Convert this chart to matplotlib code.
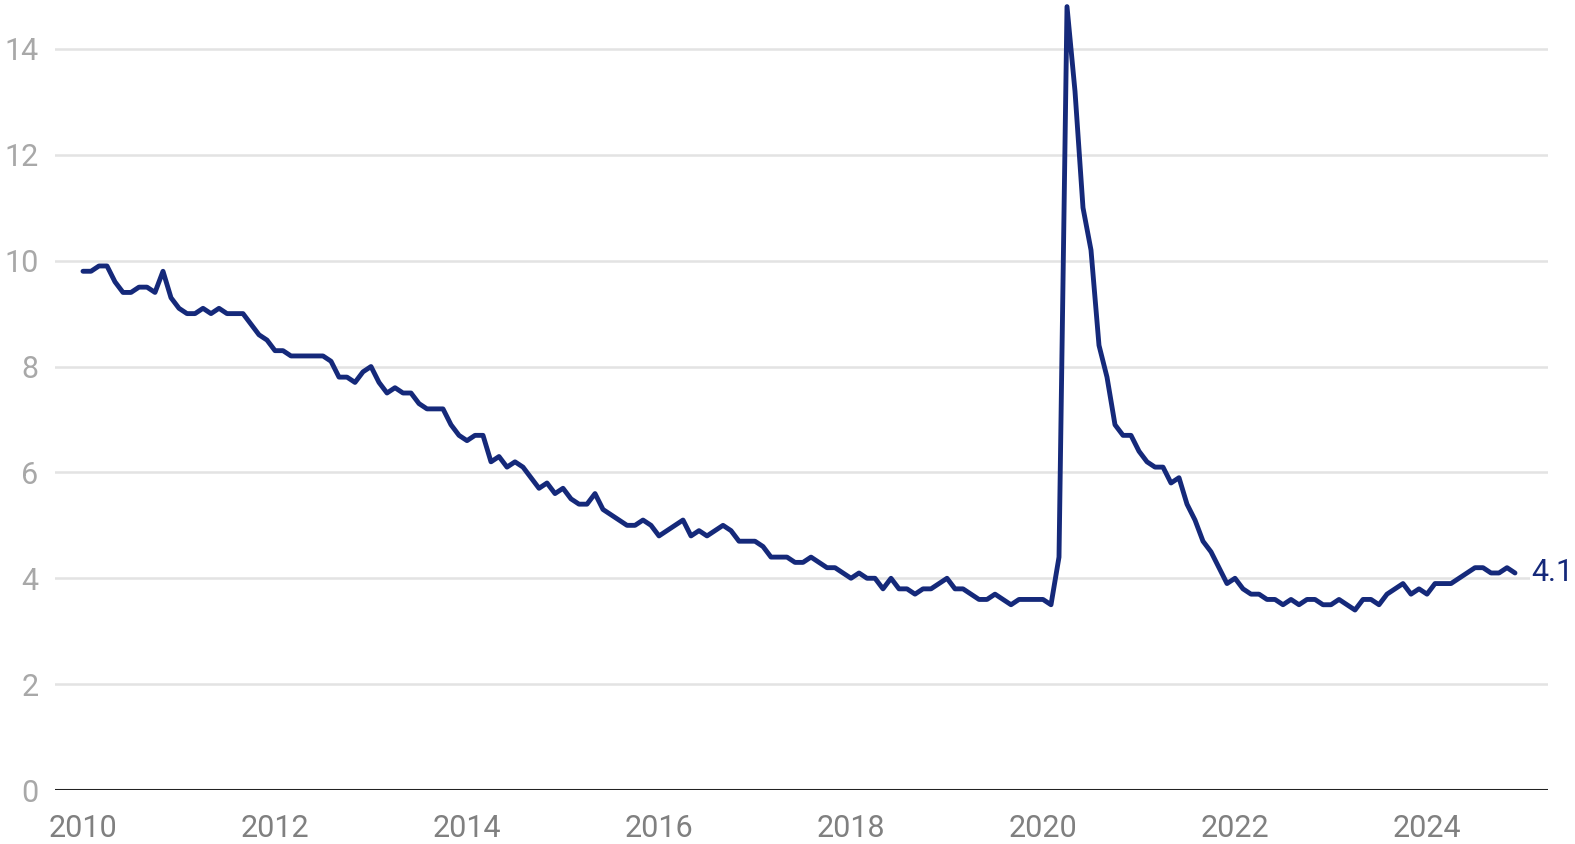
import matplotlib.pyplot as plt
import numpy as np

plt.rcParams['font.family'] = ['Roboto', 'DejaVu Sans']

# monthly unemployment rate, %, Jan 2010 - Dec 2024
rate_2010 = [9.8, 9.8, 9.9, 9.9, 9.6, 9.4, 9.4, 9.5, 9.5, 9.4, 9.8, 9.3]
rate_2011 = [9.1, 9.0, 9.0, 9.1, 9.0, 9.1, 9.0, 9.0, 9.0, 8.8, 8.6, 8.5]
rate_2012 = [8.3, 8.3, 8.2, 8.2, 8.2, 8.2, 8.2, 8.1, 7.8, 7.8, 7.7, 7.9]
rate_2013 = [8.0, 7.7, 7.5, 7.6, 7.5, 7.5, 7.3, 7.2, 7.2, 7.2, 6.9, 6.7]
rate_2014 = [6.6, 6.7, 6.7, 6.2, 6.3, 6.1, 6.2, 6.1, 5.9, 5.7, 5.8, 5.6]
rate_2015 = [5.7, 5.5, 5.4, 5.4, 5.6, 5.3, 5.2, 5.1, 5.0, 5.0, 5.1, 5.0]
rate_2016 = [4.8, 4.9, 5.0, 5.1, 4.8, 4.9, 4.8, 4.9, 5.0, 4.9, 4.7, 4.7]
rate_2017 = [4.7, 4.6, 4.4, 4.4, 4.4, 4.3, 4.3, 4.4, 4.3, 4.2, 4.2, 4.1]
rate_2018 = [4.0, 4.1, 4.0, 4.0, 3.8, 4.0, 3.8, 3.8, 3.7, 3.8, 3.8, 3.9]
rate_2019 = [4.0, 3.8, 3.8, 3.7, 3.6, 3.6, 3.7, 3.6, 3.5, 3.6, 3.6, 3.6]
rate_2020 = [3.6, 3.5, 4.4, 14.8, 13.2, 11.0, 10.2, 8.4, 7.8, 6.9, 6.7, 6.7]
rate_2021 = [6.4, 6.2, 6.1, 6.1, 5.8, 5.9, 5.4, 5.1, 4.7, 4.5, 4.2, 3.9]
rate_2022 = [4.0, 3.8, 3.7, 3.7, 3.6, 3.6, 3.5, 3.6, 3.5, 3.6, 3.6, 3.5]
rate_2023 = [3.5, 3.6, 3.5, 3.4, 3.6, 3.6, 3.5, 3.7, 3.8, 3.9, 3.7, 3.8]
rate_2024 = [3.7, 3.9, 3.9, 3.9, 4.0, 4.1, 4.2, 4.2, 4.1, 4.1, 4.2, 4.1]

rate = np.array(rate_2010 + rate_2011 + rate_2012 + rate_2013 + rate_2014
                + rate_2015 + rate_2016 + rate_2017 + rate_2018 + rate_2019
                + rate_2020 + rate_2021 + rate_2022 + rate_2023 + rate_2024)
t = 2010 + np.arange(len(rate)) / 12

year_ticks = [2010, 2012, 2014, 2016, 2018, 2020, 2022, 2024]
y_ticks = [0, 2, 4, 6, 8, 10, 12, 14]

navy = '#15297a'

fig = plt.figure(figsize=(15.75, 8.44), dpi=100)
ax = fig.add_axes([55 / 1575, 54 / 844, (1548 - 55) / 1575, 783.4 / 844])

ax.plot(t, rate, color=navy, lw=3.5, solid_joinstyle='round',
        solid_capstyle='round', clip_on=False, zorder=3)
ax.text(t[-1] + 0.17, rate[-1], f'{rate[-1]:.1f}', color=navy, fontsize=22,
        va='center', ha='left', zorder=4,
        bbox=dict(facecolor='white', edgecolor='none', pad=1))

ax.set_xlim(2010 - 28 / 96, 2010 + (1548 - 83) / 96)
ax.set_ylim(0, 14.8)
ax.set_xticks(year_ticks)
ax.set_xticklabels([str(y) for y in year_ticks])
ax.set_yticks(y_ticks)

ax.grid(axis='y', color='#e3e3e3', lw=1.8, zorder=0)
ax.axhline(0, color='#222222', lw=2.2, zorder=2)
for s in ax.spines.values():
    s.set_visible(False)

ax.tick_params(axis='y', length=0, pad=12, labelsize=22, labelcolor='#a8a8a8')
ax.tick_params(axis='x', length=0, pad=17, labelsize=22, labelcolor='#808080')

fig.savefig('out.png', dpi=100, facecolor='white')
